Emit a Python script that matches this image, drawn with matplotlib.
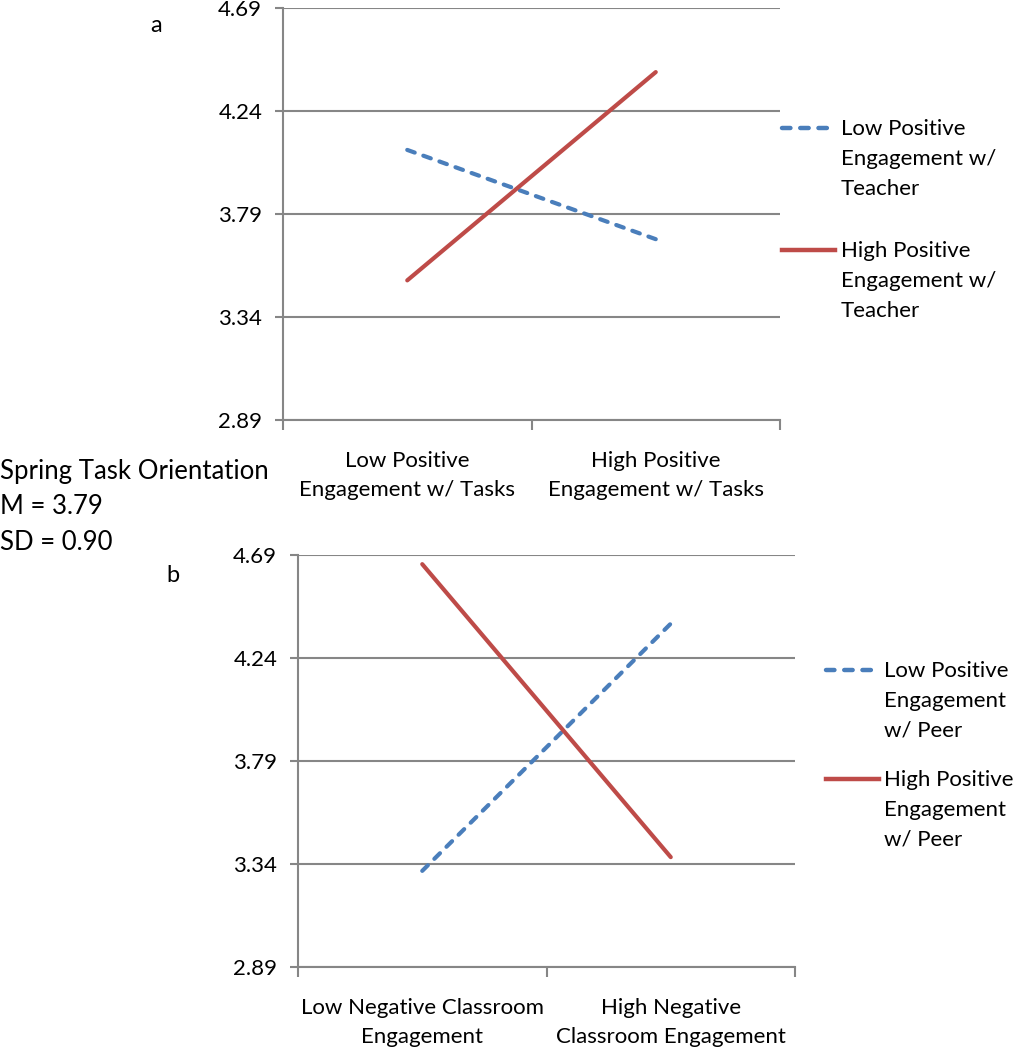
"""Interaction plots: spring task orientation"""

import matplotlib
matplotlib.use("Agg")
import matplotlib.pyplot as plt
from matplotlib.lines import Line2D

plt.rcParams["font.family"] = ["Lato", "DejaVu Sans"]

Y_TICKS = [2.89, 3.34, 3.79, 4.24, 4.69]

# panel a
CATS_A = ["Low Positive\nEngagement w/ Tasks", "High Positive\nEngagement w/ Tasks"]
LOW_TEACHER = [4.07, 3.68]
HIGH_TEACHER = [3.50, 4.41]
LEG_A = ["Low Positive\nEngagement w/\nTeacher", "High Positive\nEngagement w/\nTeacher"]

# panel b
CATS_B = ["Low Negative Classroom\nEngagement", "High Negative\nClassroom Engagement"]
LOW_PEER = [3.31, 4.39]
HIGH_PEER = [4.65, 3.37]
LEG_B = ["Low Positive\nEngagement\nw/ Peer", "High Positive\nEngagement\nw/ Peer"]

NOTE = ["Spring Task Orientation", "M = 3.79", "SD = 0.90"]

BLUE = "#4a7ebb"
RED = "#be4b48"
GREY = "#868686"
W, H = 1014, 1050
FS = 16
DASH = (0, (1.9, 2.2))


def px(x, y):
    return x / W, 1 - y / H


def panel(fig, rect, cats, low, high):
    ax = fig.add_axes(rect)
    xs = [0.5, 1.5]
    ax.plot(xs, low, color=BLUE, lw=3, ls=DASH, dash_capstyle="round")
    ax.plot(xs, high, color=RED, lw=3, solid_capstyle="round")
    ax.set_xlim(0, 2)
    ax.set_ylim(Y_TICKS[0], Y_TICKS[-1])
    ax.set_yticks(Y_TICKS)
    ax.set_yticklabels(["%.2f" % v for v in Y_TICKS])
    ax.set_xticks([0, 1, 2], minor=True)
    ax.set_xticks(xs)
    ax.set_xticklabels(cats, linespacing=1.62)
    ax.tick_params(axis="x", which="major", length=0, pad=22, labelsize=FS)
    ax.tick_params(axis="x", which="minor", length=7, width=1.5, color=GREY, direction="out")
    ax.tick_params(axis="y", length=6, width=1.5, color=GREY, pad=9, labelsize=FS)
    ax.grid(True, axis="y", color=GREY, lw=1.5)
    ax.set_axisbelow(True)
    for s in ["top", "right"]:
        ax.spines[s].set_visible(False)
    for s in ["left", "bottom"]:
        ax.spines[s].set_color(GREY)
        ax.spines[s].set_linewidth(1.5)
    return ax


def legend(fig, x0, x1, xt, ys, labels):
    styles = [dict(color=BLUE, ls=DASH, dash_capstyle="round"),
              dict(color=RED, ls="-")]
    for y, lab, st in zip(ys, labels, styles):
        a, b = px(x0, y)
        c, _ = px(x1, y)
        fig.add_artist(Line2D([a, c], [b, b], lw=3.2, transform=fig.transFigure, **st))
        tx, ty = px(xt, y - 9)
        fig.text(tx, ty, lab, fontsize=FS, va="top", ha="left", linespacing=1.62)


fig = plt.figure(figsize=(W / 100, H / 100), dpi=100)

panel(fig, [283 / W, 1 - 420 / H, 497 / W, 412 / H], CATS_A, LOW_TEACHER, HIGH_TEACHER)
panel(fig, [298 / W, 1 - 967 / H, 497 / W, 412 / H], CATS_B, LOW_PEER, HIGH_PEER)

legend(fig, 782, 835, 841, [128, 250], LEG_A)
legend(fig, 826, 879, 884, [670, 779], LEG_B)

fig.text(*px(150, 25), "a", fontsize=FS + 1, ha="left", va="center")
fig.text(*px(166, 575), "b", fontsize=FS + 1, ha="left", va="center")
for i, line in enumerate(NOTE):
    fig.text(*px(0, 472 + 35 * i), line, fontsize=18.5, ha="left", va="center")

fig.savefig("out.png", dpi=100)
